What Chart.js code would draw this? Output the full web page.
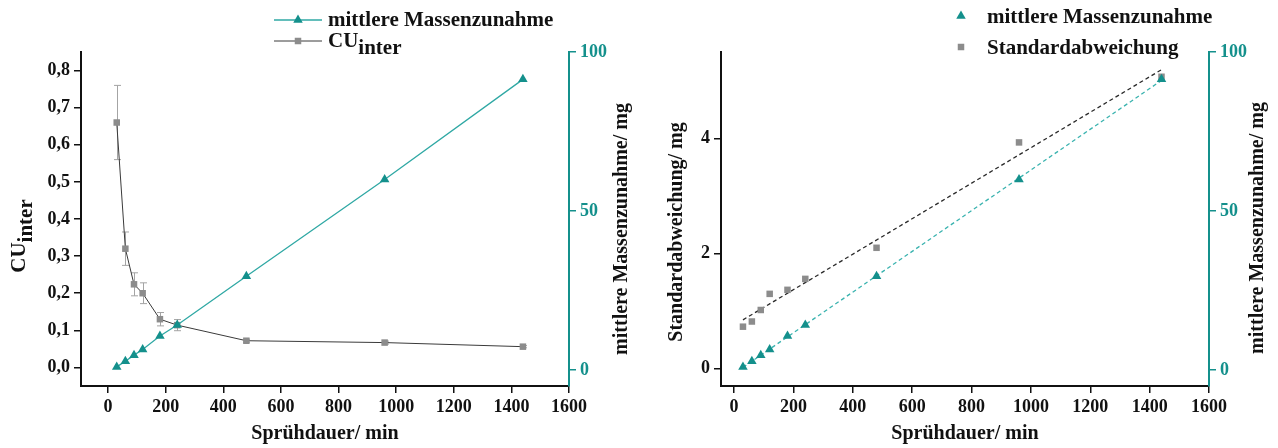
<!DOCTYPE html>
<html>
<head>
<meta charset="utf-8">
<script src="https://cdn.jsdelivr.net/npm/chart.js@4/dist/chart.umd.min.js"></script>
<style>
  html, body { margin: 0; padding: 0; background: #ffffff; }
  #wrap { position: relative; width: 1278px; height: 448px; overflow: hidden; }
  #c1 { position: absolute; left: 0; top: 0; }
  #c2 { position: absolute; left: 640px; top: 0; }
</style>
</head>
<body>
<div id="wrap">
  <canvas id="c1" width="640" height="448"></canvas>
  <canvas id="c2" width="638" height="448"></canvas>
</div>
<script>
// Spray duration in minutes
const sprayTimes = [30, 60, 90, 120, 180, 240, 480, 960, 1440];
// Mean mass gain (mg)
const massGain = [1.0, 2.8, 4.7, 6.5, 10.7, 14.2, 29.5, 59.9, 91.4];
// Inter-tablet coating uniformity CU_inter and its error
const cuInter = [0.66, 0.32, 0.224, 0.20, 0.13, 0.114, 0.072, 0.067, 0.056];
const cuErr = [0.1, 0.045, 0.031, 0.028, 0.018, 0.015, 0.004, 0.004, 0.003];
// Standard deviation of the mass gain (mg)
const stdDev = [0.73, 0.82, 1.02, 1.30, 1.37, 1.56, 2.10, 3.93, 5.07];

// Axis ticks
const timeTicks = [0, 200, 400, 600, 800, 1000, 1200, 1400, 1600];
const cuTicks = [0, 0.1, 0.2, 0.3, 0.4, 0.5, 0.6, 0.7, 0.8];
const massTicks = [0, 50, 100];
const stdTicks = [0, 2, 4];

const TEAL = '#14908c';
const TEAL_LINE = '#2fa8a4';
const TEAL_DASH = '#3ab3af';
const GRAY = '#8c8c8c';
const DARK = '#3a3a3a';
const INK = '#111111';
const FONT = "'Liberation Serif', 'Times New Roman', serif";

function pts(ys) { return sprayTimes.map((x, i) => ({ x: x, y: ys[i] })); }

// Least-squares straight line through the measured points
function fitLine(ys) {
  const n = sprayTimes.length;
  const mx = sprayTimes.reduce((a, b) => a + b, 0) / n;
  const my = ys.reduce((a, b) => a + b, 0) / n;
  let sxy = 0, sxx = 0;
  for (let i = 0; i < n; i++) {
    sxy += (sprayTimes[i] - mx) * (ys[i] - my);
    sxx += (sprayTimes[i] - mx) * (sprayTimes[i] - mx);
  }
  const b = sxy / sxx, a = my - b * mx;
  const x0 = sprayTimes[0], x1 = sprayTimes[n - 1];
  return [{ x: x0, y: a + b * x0 }, { x: x1, y: a + b * x1 }];
}

function fixedTicks(values) {
  return scale => { scale.ticks = values.map(v => ({ value: v })); };
}

function tickFont() { return { family: FONT, size: 18, weight: 'bold' }; }

const commaFmt = v => v.toFixed(1).replace('.', ',');
const intFmt = v => String(Math.round(v));

function xAxis(min) {
  return {
    type: 'linear', position: 'bottom', min: min, max: 1600,
    afterBuildTicks: fixedTicks(timeTicks),
    afterFit: s => { s.height = 62; },
    grid: { display: true, drawOnChartArea: false, drawTicks: true, tickLength: 7, color: INK, lineWidth: 1.5 },
    border: { display: true, color: INK, width: 2 },
    ticks: { font: tickFont(), color: INK, padding: 4, maxRotation: 0, autoSkip: false, callback: intFmt }
  };
}

function yAxis(pos, min, max, ticks, color, width, fmt) {
  return {
    type: 'linear', position: pos, min: min, max: max,
    afterBuildTicks: fixedTicks(ticks),
    afterFit: s => { s.width = width; },
    grid: { display: true, drawOnChartArea: false, drawTicks: true, tickLength: 7, color: color, lineWidth: 1.5 },
    border: { display: true, color: color, width: 2 },
    ticks: { font: tickFont(), color: color, padding: 4, autoSkip: false, callback: fmt }
  };
}

function rotatedText(ctx, parts, cx, cy, size, color) {
  // parts: [{text, dy}] drawn along one rotated baseline, centred on (cx, cy)
  ctx.save();
  ctx.font = 'bold ' + size + 'px ' + FONT;
  ctx.fillStyle = color;
  ctx.translate(cx, cy);
  ctx.rotate(-Math.PI / 2);
  ctx.textBaseline = 'middle';
  ctx.textAlign = 'left';
  const total = parts.reduce((w, p) => w + ctx.measureText(p.text).width, 0);
  let x = -total / 2;
  parts.forEach(p => {
    ctx.fillText(p.text, x, p.dy || 0);
    x += ctx.measureText(p.text).width;
  });
  ctx.restore();
}

function plainText(ctx, text, x, y, size, color, align) {
  ctx.save();
  ctx.font = 'bold ' + size + 'px ' + FONT;
  ctx.fillStyle = color;
  ctx.textAlign = align || 'left';
  ctx.textBaseline = 'alphabetic';
  ctx.fillText(text, x, y);
  ctx.restore();
}

function marker(ctx, ds, x, y) {
  ctx.save();
  ctx.fillStyle = ds.pointBackgroundColor;
  ctx.strokeStyle = ds.pointBorderColor || ds.pointBackgroundColor;
  Chart.helpers.drawPoint(ctx, { pointStyle: ds.pointStyle, radius: ds.pointRadius, rotation: 0, borderWidth: 0 }, x, y);
  ctx.restore();
}

// Error bars for CU_inter, drawn behind the markers
const errorBars = {
  id: 'errorBars',
  beforeDatasetsDraw(chart) {
    const ctx = chart.ctx, xs = chart.scales.x, ys = chart.scales.y;
    ctx.save();
    ctx.strokeStyle = '#a4a4a4';
    ctx.lineWidth = 1;
    sprayTimes.forEach((t, i) => {
      const px = Math.round(xs.getPixelForValue(t)) + 0.5;
      const top = ys.getPixelForValue(cuInter[i] + cuErr[i]);
      const bot = ys.getPixelForValue(cuInter[i] - cuErr[i]);
      ctx.beginPath();
      ctx.moveTo(px, top); ctx.lineTo(px, bot);
      ctx.moveTo(px - 3.5, top); ctx.lineTo(px + 3.5, top);
      ctx.moveTo(px - 3.5, bot); ctx.lineTo(px + 3.5, bot);
      ctx.stroke();
    });
    ctx.restore();
  }
};

// Left panel: titles and legend
const leftDecor = {
  id: 'leftDecor',
  afterDraw(chart) {
    const ctx = chart.ctx;
    const ca = chart.chartArea;
    rotatedText(ctx, [{ text: 'CU', dy: 0 }, { text: 'inter', dy: 7 }], 20, 236, 21, INK);
    rotatedText(ctx, [{ text: 'mittlere Massenzunahme/ mg' }], 622, 229, 20, INK);
    plainText(ctx, 'Sprühdauer/ min', (ca.left + ca.right) / 2, 439, 20, INK, 'center');

    const dsMass = chart.data.datasets[0], dsCU = chart.data.datasets[1];
    const rows = [{ ds: dsMass, y: 20 }, { ds: dsCU, y: 41 }];
    rows.forEach(r => {
      ctx.save();
      ctx.strokeStyle = r.ds.borderColor;
      ctx.lineWidth = r.ds.borderWidth;
      ctx.beginPath();
      ctx.moveTo(274, r.y); ctx.lineTo(322, r.y);
      ctx.stroke();
      ctx.restore();
      marker(ctx, r.ds, 298, r.y);
    });
    plainText(ctx, 'mittlere Massenzunahme', 328, 26, 21, INK);
    plainText(ctx, 'CU', 328, 47, 21, INK);
    ctx.save();
    ctx.font = 'bold 21px ' + FONT;
    const cuW = ctx.measureText('CU').width;
    ctx.restore();
    plainText(ctx, 'inter', 328 + cuW, 54, 21, INK);
  }
};

// Right panel: titles and legend
const rightDecor = {
  id: 'rightDecor',
  afterDraw(chart) {
    const ctx = chart.ctx;
    const ca = chart.chartArea;
    rotatedText(ctx, [{ text: 'Standardabweichung/ mg' }], 37, 232, 20, INK);
    rotatedText(ctx, [{ text: 'mittlere Massenzunahme/ mg' }], 618, 228, 20, INK);
    plainText(ctx, 'Sprühdauer/ min', (ca.left + ca.right) / 2, 439, 20, INK, 'center');

    marker(ctx, chart.data.datasets[0], 321, 16);
    marker(ctx, chart.data.datasets[1], 321, 47);
    plainText(ctx, 'mittlere Massenzunahme', 347, 23, 21, INK);
    plainText(ctx, 'Standardabweichung', 347, 54, 21, INK);
  }
};

const commonOpts = {
  responsive: false,
  animation: false,
  layout: { padding: { top: 52, left: 0, right: 0, bottom: 0 } },
  plugins: { legend: { display: false }, tooltip: { enabled: false } }
};

new Chart(document.getElementById('c1'), {
  type: 'scatter',
  data: {
    datasets: [
      {
        label: 'mittlere Massenzunahme', data: pts(massGain), yAxisID: 'y2',
        showLine: true, borderColor: TEAL_LINE, borderWidth: 1.3,
        pointStyle: 'triangle', pointRadius: 5.5, pointBackgroundColor: TEAL, pointBorderColor: TEAL, pointBorderWidth: 0
      },
      {
        label: 'CU_inter', data: pts(cuInter), yAxisID: 'y',
        showLine: true, borderColor: DARK, borderWidth: 1,
        pointStyle: 'rect', pointRadius: 4.6, pointBackgroundColor: GRAY, pointBorderColor: GRAY, pointBorderWidth: 0
      }
    ]
  },
  options: Object.assign({}, commonOpts, {
    scales: {
      x: xAxis(-94),
      y: yAxis('left', -0.05, 0.85, cuTicks, INK, 81, commaFmt),
      y2: yAxis('right', -5, 100, massTicks, TEAL, 71, intFmt)
    }
  }),
  plugins: [errorBars, leftDecor]
});

new Chart(document.getElementById('c2'), {
  type: 'scatter',
  data: {
    datasets: [
      {
        label: 'mittlere Massenzunahme', data: pts(massGain), yAxisID: 'y2', showLine: false,
        pointStyle: 'triangle', pointRadius: 5.5, pointBackgroundColor: TEAL, pointBorderColor: TEAL, pointBorderWidth: 0
      },
      {
        label: 'Standardabweichung', data: pts(stdDev), yAxisID: 'y', showLine: false,
        pointStyle: 'rect', pointRadius: 4.6, pointBackgroundColor: GRAY, pointBorderColor: GRAY, pointBorderWidth: 0
      },
      {
        label: 'Fit Massenzunahme', data: fitLine(massGain), yAxisID: 'y2', showLine: true,
        borderColor: TEAL_DASH, borderWidth: 1.3, borderDash: [4, 3], pointRadius: 0
      },
      {
        label: 'Fit Standardabweichung', data: fitLine(stdDev), yAxisID: 'y', showLine: true,
        borderColor: '#2a2a2a', borderWidth: 1.3, borderDash: [4, 3], pointRadius: 0
      }
    ]
  },
  options: Object.assign({}, commonOpts, {
    scales: {
      x: xAxis(-44),
      y: yAxis('left', -0.3, 5.5, stdTicks, INK, 81, intFmt),
      y2: yAxis('right', -5, 100, massTicks, TEAL, 69, intFmt)
    }
  }),
  plugins: [rightDecor]
});
</script>
</body>
</html>
